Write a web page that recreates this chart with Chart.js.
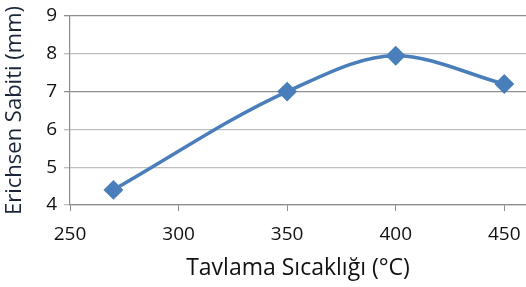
<!DOCTYPE html>
<html>
<head>
<meta charset="utf-8">
<script src="https://cdn.jsdelivr.net/npm/chart.js@4"></script>
<style>
  html, body { margin: 0; padding: 0; background: #fff; }
  #wrap { width: 526px; height: 287px; }
</style>
</head>
<body>
<div id="wrap"><canvas id="chart"></canvas></div>
<script>
/* ================= DATA ================= */
const temps = [270, 350, 400, 450];
const erichsen = [4.4, 7.0, 7.95, 7.2];
const xTicks = [250, 300, 350, 400, 450];
const yTicks = [4, 5, 6, 7, 8, 9];

const xTitle = "Tavlama Sıcaklığı (°C)";
const yTitle = "Erichsen Sabiti (mm)";

/* ================= STYLE ================= */
const BLUE = "#4a7ebb";
const FONT = "'Open Sans', 'DejaVu Sans', sans-serif";

/* ================= CHART ================= */
new Chart(document.getElementById("chart"), {
    type: "line",
    data: {
        datasets: [{
            data: temps.map((t, i) => ({ x: t, y: erichsen[i] })),
            borderColor: BLUE,
            backgroundColor: BLUE,
            borderWidth: 3.5,
            cubicInterpolationMode: "monotone",
            pointStyle: "rectRot",
            pointRadius: 7.5,
            pointHoverRadius: 7.5
        }]
    },
    options: {
        responsive: true,
        maintainAspectRatio: false,
        animation: false,
        layout: { autoPadding: false, padding: { top: 16, right: 0, left: 2, bottom: 0 } },
        plugins: { legend: { display: false }, tooltip: { enabled: false } },
        scales: {
            x: {
                type: "linear",
                min: 250,
                max: 460,
                afterBuildTicks: s => { s.ticks = xTicks.map(v => ({ value: v })); },
                afterFit: s => { s.height = 82; s.paddingLeft = 0; s.paddingRight = 0; },
                border: { display: true, color: "#8c8c8c", width: 1.2 },
                grid: { drawOnChartArea: false, color: "#8c8c8c", tickLength: 6 },
                ticks: { color: "#111", padding: 12, font: { family: FONT, size: 19 } },
                title: {
                    display: true,
                    text: xTitle,
                    color: "#111",
                    padding: { top: 0, bottom: 5 },
                    font: { family: FONT, size: 23 }
                }
            },
            y: {
                min: 4,
                max: 9,
                afterBuildTicks: s => { s.ticks = yTicks.map(v => ({ value: v })); },
                afterFit: s => { s.width = 68; s.paddingTop = 0; s.paddingBottom = 0; },
                border: { display: true, color: "#8c8c8c", width: 1.2 },
                grid: {
                    color: c => (c.tick && (c.tick.value === 9 || c.tick.value === 7)) ? "#8f8f8f" : "#bdbdbd",
                    lineWidth: 1.3,
                    tickLength: 6
                },
                ticks: { color: "#111", padding: 7, font: { family: FONT, size: 19 } },
                title: {
                    display: true,
                    text: yTitle,
                    color: "#1c2538",
                    padding: { top: 0, bottom: 0 },
                    font: { family: FONT, size: 22 }
                }
            }
        }
    }
});
</script>
</body>
</html>
